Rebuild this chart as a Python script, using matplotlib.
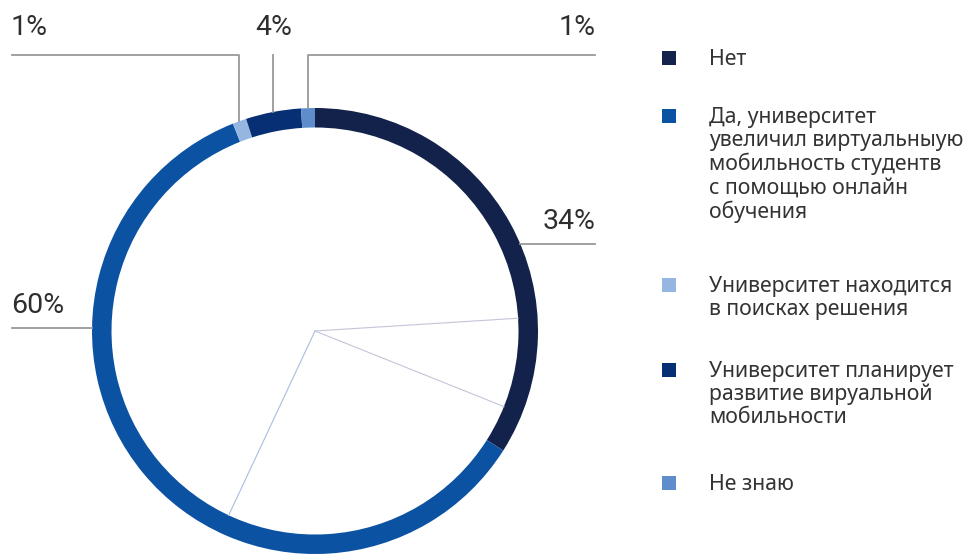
import numpy as np
import matplotlib
matplotlib.use("Agg")
import matplotlib.pyplot as plt
from matplotlib.patches import Rectangle

labels = ["Нет",
          "Да, университет\nувеличил виртуальныую\nмобильность студентв\nс помощью онлайн\nобучения",
          "Университет находится\nв поисках решения",
          "Университет планирует\nразвитие вируальной\nмобильности",
          "Не знаю"]
values = [34, 60, 1, 4, 1]
pct_labels = ["34%", "60%", "1%", "4%", "1%"]
colors = ["#13224a", "#0c52a3", "#95b6e0", "#072f73", "#5f8ccb"]
guide_angles = [86.4, 111.8, 205.1]   # thin inner lines, degrees clockwise from top

W, H = 970, 555
plt.rcParams['font.family'] = ['Noto Sans', 'DejaVu Sans']
fig = plt.figure(figsize=(W / 100, H / 100), dpi=100)
ax = fig.add_axes([0, 0, 1, 1])

cx, cy = 315, H - 331
R_out, width = 223, 19.5
ax.pie(values, colors=colors, startangle=90, counterclock=False,
       radius=R_out, center=(cx, cy), frame=True,
       wedgeprops=dict(width=width, linewidth=0))
ax.set_xlim(0, W)
ax.set_ylim(0, H)
ax.set_aspect("equal")
ax.axis("off")

R_in = R_out - width
for i, a in enumerate(guide_angles):
    t = np.deg2rad(a)
    col = "#a9bde0" if i == 2 else "#c3c5d8"
    ax.plot([cx, cx + R_in * np.sin(t)], [cy, cy + R_in * np.cos(t)],
            color=col, lw=0.8, zorder=1)

lc = "#999999"
tc = "#333333"
pct_font = dict(fontsize=20.5, color="#2e2e2e", family=['Roboto', 'DejaVu Sans'])
cum = np.cumsum([0] + values[:-1])
mid = [(c + v / 2) / 100 * 360 for c, v in zip(cum, values)]
top_y = H - 55
# Нет 34%
y34 = H - 244
xr = cx + np.sqrt(R_out**2 - (y34 - cy)**2)
ax.plot([xr, 595], [y34, y34], color=lc, lw=1.3)
ax.text(596, y34 + 15, pct_labels[0], ha="right", va="baseline", **pct_font)
# Да 60%
y60 = H - 328
xl = cx - np.sqrt(R_out**2 - (y60 - cy)**2)
ax.plot([12, xl], [y60, y60], color=lc, lw=1.3)
ax.text(11, y60 + 15, pct_labels[1], ha="left", va="baseline", **pct_font)
# small slices at top
for k, (xend, side) in zip([2, 3, 4], [(12, "left"), (None, "center"), (595, "right")]):
    t = np.deg2rad(mid[k])
    px = cx + R_out * np.sin(t)
    py = cy + R_out * np.cos(t)
    if xend is None:
        ax.plot([px, px], [py, top_y], color=lc, lw=1.3)
        ax.text(px, H - 35, pct_labels[k], ha="center", va="baseline", **pct_font)
    else:
        ax.plot([px, px, xend], [py, top_y, top_y], color=lc, lw=1.3)
        ax.text(xend + (1 if side == "right" else -1), H - 35, pct_labels[k],
                ha=side, va="baseline", **pct_font)

# legend
leg_y = [58, 116, 285, 370, 483]
for lab, col, y in zip(labels, colors, leg_y):
    ax.add_patch(Rectangle((662, H - y - 7), 14, 14, facecolor=col, edgecolor="none"))
    ax.text(709, H - y + 9, lab, ha="left", va="top", fontsize=15.3, color=tc,
            linespacing=1.12)

fig.savefig("out.png", dpi=100)
